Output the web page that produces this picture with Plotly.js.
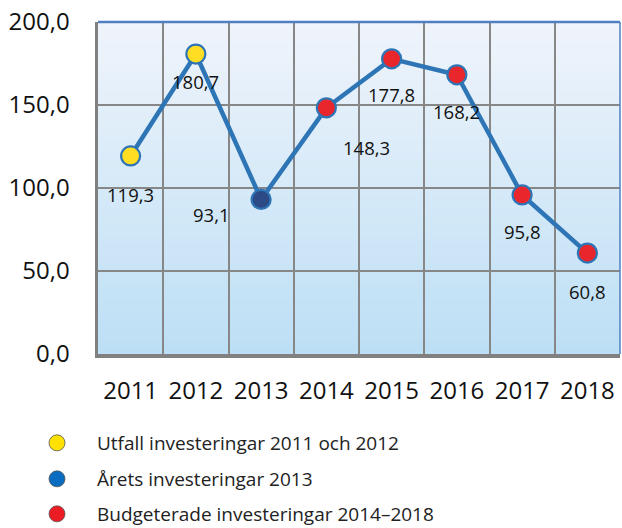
<!DOCTYPE html>
<html>
<head>
<meta charset="utf-8">
<script src="https://cdn.plot.ly/plotly-3.0.1.min.js"></script>
<style>html,body{margin:0;padding:0;background:#fff;}#chart{width:622px;height:528px;}</style>
</head>
<body>
<div id="chart"></div>
<script>
// ---- data ----
const years = ["2011","2012","2013","2014","2015","2016","2017","2018"];
const values = [119.3, 180.7, 93.1, 148.3, 177.8, 168.2, 95.8, 60.8];
const groupOf = [0, 0, 1, 2, 2, 2, 2, 2];
const groupNames = ["Utfall investeringar 2011 och 2012", "Årets investeringar 2013", "Budgeterade investeringar 2014–2018"];
const yTicks = [0, 50, 100, 150, 200];

// ---- styles ----
const markerColors = ["#ffdd22", "#2c4a85", "#e8262b"];
const legendColors = ["#ffe100", "#0a6cc0", "#ec1c24"];
const labelShift = [[0,-39],[0,-27],[-50,-15],[40,-40],[0,-36],[0,-37],[0,-37],[0,-38]];
const FONT = "Open Sans, Noto Sans, sans-serif";

const fmt = v => v.toFixed(1).replace('.', ',');

const traces = [];
traces.push({
  x: years, y: values, type: 'scatter', mode: 'lines',
  line: {color: '#2e75b6', width: 4.5}, showlegend: false, hoverinfo: 'skip'
});
traces.push({
  x: years, y: values, type: 'scatter', mode: 'markers',
  marker: {size: 19, color: values.map((v,i) => markerColors[groupOf[i]]), line: {color: '#2e75b6', width: 2.2}},
  showlegend: false
});
const legendIds = ['legend', 'legend2', 'legend3'];
groupNames.forEach((name, g) => {
  traces.push({
    x: [null], y: [null], type: 'scatter', mode: 'markers', name: name,
    marker: {size: 20, color: legendColors[g], line: {color: '#555', width: 0.8}},
    legend: legendIds[g], showlegend: true
  });
});

const annotations = values.map((v, i) => ({
  x: i, y: v, xref: 'x', yref: 'y', text: fmt(v), showarrow: false,
  xshift: labelShift[i][0], yshift: labelShift[i][1],
  font: {family: FONT, size: 18.5, color: '#111'}
}));

// gradient background bands
const shapes = [];
const N = 48;
function lerp(a, b, t) { return Math.round(a + (b - a) * t); }
const topC = [240, 244, 251], botC = [188, 223, 245];
for (let k = 0; k < N; k++) {
  const t = (k + 0.5) / N;
  const c = `rgb(${lerp(botC[0],topC[0],t)},${lerp(botC[1],topC[1],t)},${lerp(botC[2],topC[2],t)})`;
  shapes.push({type: 'rect', xref: 'paper', yref: 'paper', x0: 0, x1: 1, y0: k / N, y1: (k + 1) / N + 0.002,
    fillcolor: c, line: {width: 0}, layer: 'below'});
}
shapes.push({type: 'line', xref: 'paper', yref: 'paper', x0: 0, x1: 1, y0: 1, y1: 1, line: {color: '#4f7fc0', width: 2.5}, layer: 'above'});
shapes.push({type: 'line', xref: 'paper', yref: 'paper', x0: 1, x1: 1, y0: 0, y1: 1, line: {color: '#4f7fc0', width: 1.5}, layer: 'above'});

const legendBase = {
  xref: 'container', yref: 'container', xanchor: 'left', yanchor: 'middle',
  bgcolor: 'rgba(0,0,0,0)', borderwidth: 0, font: {family: FONT, size: 19, color: '#222'}, itemwidth: 70
};
const legendRows = [443, 479, 514];
const layout = {
  width: 622, height: 528,
  margin: {l: 98, r: 2, t: 22, b: 174, autoexpand: false},
  paper_bgcolor: '#ffffff', plot_bgcolor: '#dbeaf8',
  separators: ', ',
  font: {family: FONT, color: '#111'},
  xaxis: {
    type: 'category', range: [-0.5, 7.5], tickson: 'boundaries', showgrid: true, tickangle: 0,
    gridcolor: '#878787', gridwidth: 2, ticks: '', showline: true, linecolor: '#808080', linewidth: 3.5,
    tickfont: {family: FONT, size: 24, color: '#111'}, ticklabelstandoff: 13, zeroline: false, fixedrange: true
  },
  yaxis: {
    range: [0, 200], tickvals: yTicks, tickformat: '.1f', showgrid: true, gridcolor: '#878787', gridwidth: 2,
    ticks: '', showline: true, linecolor: '#808080', linewidth: 3.5, zeroline: false,
    tickfont: {family: FONT, size: 24, color: '#111'}, ticklabelstandoff: 20, fixedrange: true
  },
  showlegend: true,
  legend: Object.assign({}, legendBase, {x: 17 / 622, y: 1 - legendRows[0] / 528}),
  legend2: Object.assign({}, legendBase, {x: 17 / 622, y: 1 - legendRows[1] / 528}),
  legend3: Object.assign({}, legendBase, {x: 17 / 622, y: 1 - legendRows[2] / 528}),
  annotations: annotations,
  shapes: shapes
};

Plotly.newPlot('chart', traces, layout, {displayModeBar: false, staticPlot: true});
</script>
</body>
</html>
